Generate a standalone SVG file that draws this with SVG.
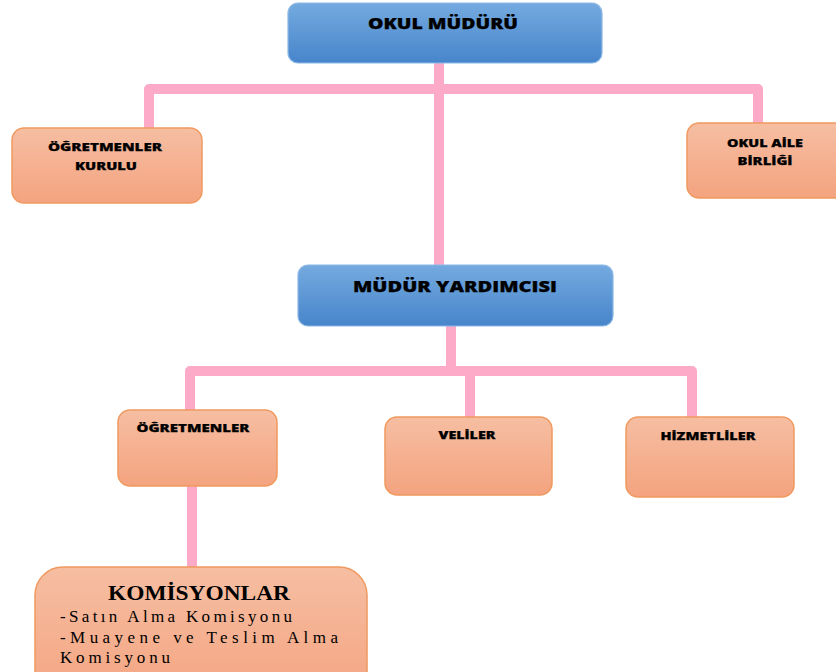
<svg xmlns="http://www.w3.org/2000/svg" width="836" height="672" viewBox="0 0 836 672">
<defs>
<linearGradient id="gBlue" x1="0" y1="0" x2="0" y2="1">
<stop offset="0" stop-color="#74aadf"/>
<stop offset="1" stop-color="#4785cb"/>
</linearGradient>
<linearGradient id="gOrange" x1="0" y1="0" x2="0" y2="1">
<stop offset="0" stop-color="#f6bea2"/>
<stop offset="1" stop-color="#f4a37f"/>
</linearGradient>
<style>
.blue{fill:url(#gBlue);stroke:#8cb8e6;stroke-width:1.2}
.orange{fill:url(#gOrange);stroke:#f0995f;stroke-width:1.5}
.conn{fill:none;stroke:#fdaac9;stroke-width:10;stroke-linecap:round;stroke-linejoin:round}
.t{font-family:"Open Sans","Liberation Sans",sans-serif;font-weight:800;fill:#000;stroke:#000;stroke-width:0.25;text-anchor:middle}
.s{font-family:"Liberation Serif","Times New Roman",serif;fill:#000}
</style>
</defs>
<rect width="836" height="672" fill="#fff"/>
<g id="connectors">
<path class="conn" d="M439 64 V265"/>
<path class="conn" d="M149 127 V89 H758 V123"/>
<path class="conn" d="M451 326 V371"/>
<path class="conn" d="M190 410 V371 H692 V417"/>
<path class="conn" d="M470 371 V417"/>
<path class="conn" d="M192 486 V567"/>
</g>
<g id="okul-muduru">
<rect class="blue" x="288" y="3" width="314" height="60" rx="10"/>
<text class="t" x="443" y="29" font-size="15" textLength="150" lengthAdjust="spacingAndGlyphs">OKUL MÜDÜRÜ</text>
</g>
<g id="ogretmenler-kurulu">
<rect class="orange" x="12" y="128" width="190" height="75" rx="12"/>
<text class="t" x="105" y="151" font-size="11" textLength="114" lengthAdjust="spacingAndGlyphs">ÖĞRETMENLER</text>
<text class="t" x="106" y="170" font-size="11" textLength="62" lengthAdjust="spacingAndGlyphs">KURULU</text>
</g>
<g id="okul-aile-birligi">
<rect class="orange" x="687" y="123" width="160" height="75" rx="12"/>
<text class="t" x="765" y="147" font-size="11" textLength="76" lengthAdjust="spacingAndGlyphs">OKUL AİLE</text>
<text class="t" x="765" y="165" font-size="11" textLength="55" lengthAdjust="spacingAndGlyphs">BİRLİĞİ</text>
</g>
<g id="mudur-yardimcisi">
<rect class="blue" x="298" y="265" width="315" height="61" rx="10"/>
<text class="t" x="455" y="292" font-size="15.5" textLength="204" lengthAdjust="spacingAndGlyphs">MÜDÜR YARDIMCISI</text>
</g>
<g id="ogretmenler">
<rect class="orange" x="118" y="410" width="159" height="76" rx="12"/>
<text class="t" x="193" y="432" font-size="11" textLength="113" lengthAdjust="spacingAndGlyphs">ÖĞRETMENLER</text>
</g>
<g id="veliler">
<rect class="orange" x="385" y="417" width="167" height="78" rx="12"/>
<text class="t" x="467" y="439" font-size="11" textLength="57" lengthAdjust="spacingAndGlyphs">VELİLER</text>
</g>
<g id="hizmetliler">
<rect class="orange" x="626" y="417" width="168" height="80" rx="12"/>
<text class="t" x="708" y="440" font-size="11" textLength="95" lengthAdjust="spacingAndGlyphs">HİZMETLİLER</text>
</g>
<g id="komisyonlar">
<rect class="orange" x="35" y="567" width="332" height="140" rx="28"/>
<text class="s" x="199" y="600" font-size="20" font-weight="700" text-anchor="middle" textLength="182" lengthAdjust="spacingAndGlyphs">KOMİSYONLAR</text>
<text class="s" x="60" y="622" font-size="17" textLength="232" lengthAdjust="spacing">-Satın Alma Komisyonu</text>
<text class="s" x="60" y="643" font-size="17" textLength="278" lengthAdjust="spacing">-Muayene ve Teslim Alma</text>
<text class="s" x="60" y="663" font-size="17" textLength="110" lengthAdjust="spacing">Komisyonu</text>
</g>
</svg>
